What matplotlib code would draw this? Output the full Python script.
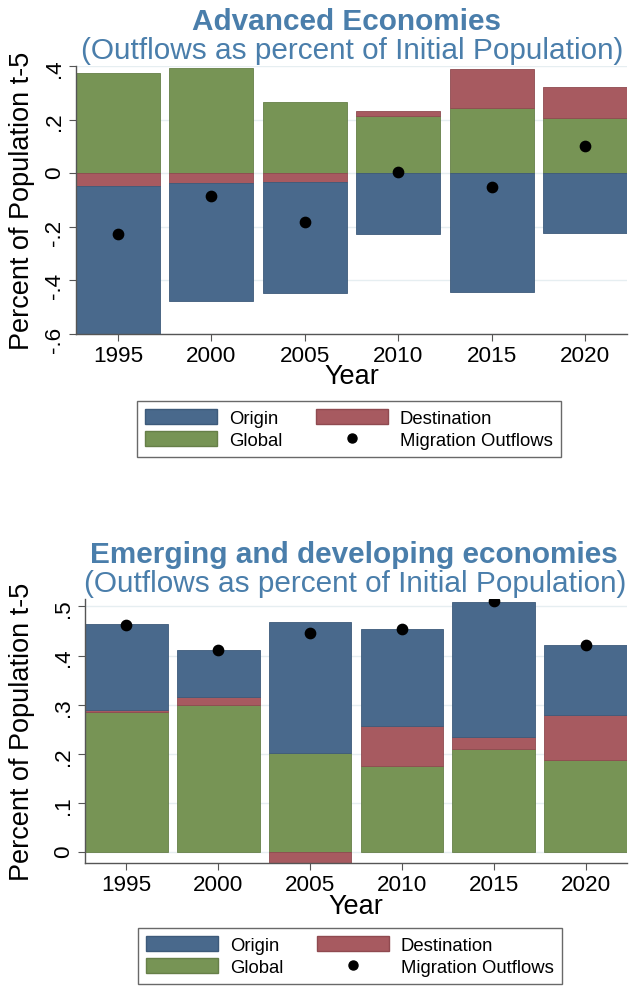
import numpy as np
import matplotlib
matplotlib.use("Agg")
import matplotlib.pyplot as plt
from matplotlib.patches import Patch
from matplotlib.lines import Line2D

plt.rcParams['font.family'] = ['Liberation Sans', 'DejaVu Sans']

years = [1995, 2000, 2005, 2010, 2015, 2020]

# Advanced economies (percent of population t-5)
adv_global = [0.373, 0.393, 0.265, 0.215, 0.242, 0.205]
adv_destination = [-0.050, -0.037, -0.035, 0.018, 0.148, 0.118]
adv_origin = [-0.551, -0.441, -0.412, -0.228, -0.443, -0.225]
adv_outflows = [-0.228, -0.085, -0.182, 0.003, -0.051, 0.100]
adv_ticks = [0.4, 0.2, 0.0, -0.2, -0.4, -0.6]
adv_ticklabels = ['.4', '.2', '0', '-.2', '-.4', '-.6']

# Emerging and developing economies
emd_global = [0.285, 0.299, 0.202, 0.175, 0.211, 0.188]
emd_destination = [0.004, 0.016, -0.025, 0.082, 0.024, 0.092]
emd_origin = [0.175, 0.097, 0.267, 0.198, 0.274, 0.142]
emd_outflows = [0.463, 0.411, 0.445, 0.454, 0.510, 0.422]
emd_ticks = [0.0, 0.1, 0.2, 0.3, 0.4, 0.5]
emd_ticklabels = ['0', '.1', '.2', '.3', '.4', '.5']

C_ORIGIN = '#49698c'
C_DEST = '#a75a60'
C_GLOBAL = '#779455'
C_TITLE = '#4a7eab'
E_ORIGIN = '#3d5a7a'
E_DEST = '#8f4a50'
E_GLOBAL = '#667f48'

W, H = 629, 987
fig = plt.figure(figsize=(W / 100, H / 100), dpi=100)


def px_axes(left, top, right, bottom):
    return fig.add_axes([left / W, 1 - bottom / H, (right - left) / W, (bottom - top) / H])


def draw(ax, glob, dest, orig, outflows, ticks, ticklabels, ylim, label_x):
    x = np.array(years)
    pos = np.zeros(len(years))
    neg = np.zeros(len(years))
    for vals, col, ec in [(glob, C_GLOBAL, E_GLOBAL), (dest, C_DEST, E_DEST), (orig, C_ORIGIN, E_ORIGIN)]:
        v = np.array(vals)
        base = np.where(v >= 0, pos, neg)
        ax.bar(x, v, bottom=base, width=4.5, color=col, edgecolor=ec, linewidth=0.6, zorder=2)
        pos = np.where(v >= 0, pos + v, pos)
        neg = np.where(v < 0, neg + v, neg)
    ax.scatter(x, outflows, s=55, color='black', zorder=3)

    ax.set_xlim(1992.75, 2022.25)
    ax.set_ylim(*ylim)
    ax.set_xticks(years)
    ax.set_yticks(ticks)
    ax.set_yticklabels(ticklabels)
    ax.grid(axis='y', color='#e6eef1', linewidth=1, zorder=0)
    ax.set_axisbelow(True)
    for s in ['top', 'right']:
        ax.spines[s].set_visible(False)
    for s in ['left', 'bottom']:
        ax.spines[s].set_color('#555555')
        ax.spines[s].set_linewidth(1)
    ax.tick_params(axis='both', labelsize=16.2, length=5, color='#555555', pad=3)
    ax.tick_params(axis='y', labelrotation=90)
    ax.set_ylabel('Percent of Population t-5', fontsize=19.5)
    ax.yaxis.set_label_coords(label_x, 0.5)
    ax.set_xlabel('Year', fontsize=19.5, labelpad=-2)


handles = [
    Patch(facecolor=C_ORIGIN, edgecolor=E_ORIGIN, label='Origin'),
    Patch(facecolor=C_GLOBAL, edgecolor=E_GLOBAL, label='Global'),
    Patch(facecolor=C_DEST, edgecolor=E_DEST, label='Destination'),
    Line2D([], [], marker='o', linestyle='none', color='black', markersize=6.5, label='Migration Outflows'),
]


def legend(cx, cy):
    leg = fig.legend(handles=handles, ncol=2, loc='center', bbox_to_anchor=(cx / W, 1 - cy / H),
                     fontsize=13.3, frameon=True, fancybox=False, handlelength=3.9, handleheight=0.9,
                     handletextpad=0.65, columnspacing=1.8, labelspacing=0.2, borderpad=0.45)
    leg.get_frame().set_edgecolor('#444444')
    leg.get_frame().set_linewidth(1)


def titles(cx1, cx2, base1, base2, line1):
    fig.text(cx1 / W, 1 - base1 / H, line1, ha='center', va='baseline',
             fontsize=21.4, fontweight='bold', color=C_TITLE)
    fig.text(cx2 / W, 1 - base2 / H, '(Outflows as percent of Initial Population)', ha='center',
             va='baseline', fontsize=21.4, color=C_TITLE)


# top panel
ax1 = px_axes(76, 67, 627, 334.7)
draw(ax1, adv_global, adv_destination, adv_origin, adv_outflows, adv_ticks, adv_ticklabels,
     (-0.6, 0.4), -0.075)
titles(346, 352, 30, 58.8, 'Advanced Economies')
legend(349, 430)

# bottom panel
ax2 = px_axes(85, 600, 627, 864.3)
draw(ax2, emd_global, emd_destination, emd_origin, emd_outflows, emd_ticks, emd_ticklabels,
     (-0.022, 0.515), -0.092)
titles(354, 355, 563, 591.8, 'Emerging and developing economies')
legend(350, 957)

fig.savefig('out.png', dpi=100)
